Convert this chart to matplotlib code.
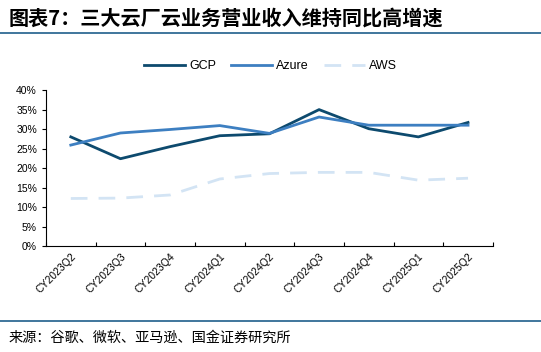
import matplotlib

matplotlib.use("Agg")

import matplotlib.pyplot as plt
from matplotlib.lines import Line2D
from matplotlib.ticker import FuncFormatter

plt.rcParams["font.family"] = ["Liberation Sans", "Noto Sans CJK SC", "DejaVu Sans"]

quarters = ["CY2023Q2", "CY2023Q3", "CY2023Q4", "CY2024Q1", "CY2024Q2",
            "CY2024Q3", "CY2024Q4", "CY2025Q1", "CY2025Q2"]
gcp = [28.0, 22.4, 25.5, 28.3, 28.8, 35.0, 30.1, 28.0, 31.7]
azure = [25.9, 29.0, 29.9, 30.9, 28.9, 33.1, 31.0, 31.0, 31.0]
aws = [12.2, 12.3, 13.1, 17.2, 18.6, 18.9, 18.9, 16.9, 17.4]

c_gcp = "#0d4a6e"
c_azure = "#3d7fc1"
c_aws = "#d3e4f4"

fig = plt.figure(figsize=(5.41, 3.52), dpi=100)
ax = fig.add_axes([0.085, 0.301, 0.826, 0.443])

x = list(range(len(quarters)))
ax.plot(x, gcp, color=c_gcp, lw=2.0, label="GCP")
ax.plot(x, azure, color=c_azure, lw=2.0, label="Azure")
ax.plot(x, aws, color=c_aws, lw=2.0, ls=(0, (6, 4)), label="AWS")

ax.set_xlim(-0.5, len(quarters) - 0.5)
ax.set_ylim(0, 40)
ax.set_yticks(range(0, 41, 5))
ax.yaxis.set_major_formatter(FuncFormatter(lambda v, p: f"{v:.0f}%"))
ax.set_xticks([i - 0.5 for i in range(len(quarters) + 1)])
ax.set_xticklabels([])
ax.set_xticks(x, minor=True)
ax.set_xticklabels(quarters, minor=True, rotation=45, ha="right",
                   rotation_mode="anchor", fontsize=7.5)
ax.tick_params(axis="x", which="minor", length=0, pad=4)
ax.tick_params(axis="x", which="major", direction="in", length=3, width=0.8)
ax.tick_params(axis="y", direction="out", length=3, width=0.8, labelsize=7.5)

for s in ["top", "right"]:
    ax.spines[s].set_visible(False)
for s in ["left", "bottom"]:
    ax.spines[s].set_color("black")
    ax.spines[s].set_linewidth(0.8)

handles = [
    Line2D([], [], color=c_gcp, lw=2.0),
    Line2D([], [], color=c_azure, lw=2.0),
    Line2D([], [], color=c_aws, lw=2.0, ls=(0, (6, 4))),
]
fig.legend(handles, ["GCP", "Azure", "AWS"], loc="center", bbox_to_anchor=(0.5, 0.812),
           ncol=3, frameon=False, fontsize=9, handlelength=3.3, columnspacing=1.2,
           handletextpad=0.3)

# header and footer
fig.text(0.015, 0.95, "图表7：三大云厂云业务营业收入维持同比高增速", fontsize=14.5,
         fontweight="bold", style="italic", va="center",
         family=["Noto Sans CJK SC", "DejaVu Sans"])
fig.add_artist(Line2D([0.0, 1.0], [0.906, 0.906], color="#1f5f8b", lw=1.2))
fig.add_artist(Line2D([0.0, 1.0], [0.088, 0.088], color="#1f5f8b", lw=1.2))
fig.text(0.015, 0.04, "来源：谷歌、微软、亚马逊、国金证券研究所", fontsize=10.2, va="center",
         family=["Noto Sans CJK SC", "DejaVu Sans"])

fig.savefig("out.png", dpi=100)
